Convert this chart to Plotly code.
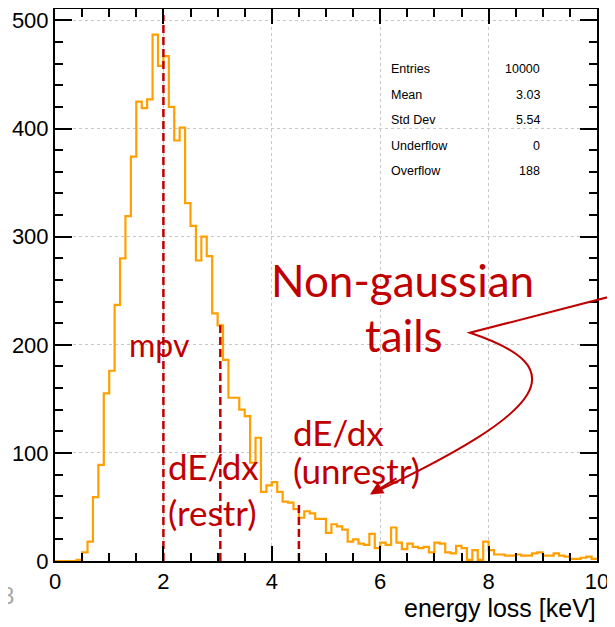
import numpy as np
import plotly.graph_objects as go

# ---------------- data ----------------
bin_lo = 0.0
bin_hi = 10.0
counts = [0, 0, 0, 0, 1, 8, 18, 59, 89, 155,
          176, 237, 280, 319, 374, 425, 419, 427, 487, 458,
          467, 420, 389, 401, 331, 310, 278, 300, 282, 229,
          218, 186, 151, 151, 140, 134, 91, 114, 64, 70,
          73, 64, 55, 54, 48, 40, 46, 44, 39, 39,
          26, 34, 32, 29, 18, 20, 16, 15, 25, 12,
          17, 15, 31, 17, 11, 16, 13, 12, 13, 8,
          17, 16, 8, 7, 14, 12, 1, 10, 1, 18,
          10, 6, 6, 5, 5, 6, 5, 5, 7, 8,
          5, 5, 7, 5, 4, 2, 2, 3, 4, 2]

marker_x = [2.0, 3.05, 4.5]          # mpv, dE/dx restr, dE/dx unrestr
marker_top = [505, 218, 52]

stat_names = ["Entries", "Mean", "Std Dev", "Underflow", "Overflow"]
stat_values = ["10000", "3.03", "5.54", "0", "188"]

x_ticks = [0, 2, 4, 6, 8, 10]
y_ticks = [0, 100, 200, 300, 400, 500]

# ---------------- layout geometry (page has an 8px body margin) ----------------
OFF = 8
W, H = 615 - OFF, 627 - OFF
PX0, PX1 = 55, 597          # plot left/right in page pixels
PY0, PY1 = 9, 561.5         # plot top/bottom in page pixels
L, T = PX0 - OFF, PY0 - OFF
pw, ph = PX1 - PX0, PY1 - PY0
R, B = W - L - pw, H - T - ph


def px(xp):
    return (xp - PX0) / pw


def py(yp):
    return (PY1 - yp) / ph


ORANGE = "#FFA000"
DRED = "#C00000"

edges = np.linspace(bin_lo, bin_hi, len(counts) + 1)
yy = list(counts) + [counts[-1]]

fig = go.Figure()
fig.add_trace(go.Scatter(x=edges, y=yy, mode="lines", line_shape="hv",
                         line=dict(color=ORANGE, width=2.2), hoverinfo="skip",
                         showlegend=False))
for xm, ym in zip(marker_x, marker_top):
    fig.add_trace(go.Scatter(x=[xm, xm], y=[0, ym], mode="lines",
                             line=dict(color=DRED, width=2.5, dash="8px,4px"),
                             showlegend=False, hoverinfo="skip"))

axis_common = dict(showline=True, linecolor="black", linewidth=2, mirror="allticks",
                   ticks="inside", tickcolor="black", tickwidth=2,
                   showgrid=True, gridcolor="#c8c8c8", griddash="dot", gridwidth=1,
                   zeroline=False,
                   tickfont=dict(family="Liberation Sans, Arial", size=22, color="black"))

fig.update_xaxes(range=[bin_lo, bin_hi], tickvals=x_ticks, ticklen=15,
                 minor=dict(dtick=0.5, ticklen=8, ticks="inside", tickcolor="black",
                            tickwidth=2, showgrid=False),
                 **axis_common)
fig.update_yaxes(range=[0, ph / 1.082], tickvals=y_ticks, ticklen=17,
                 minor=dict(dtick=20, ticklen=8, ticks="inside", tickcolor="black",
                            tickwidth=2, showgrid=False),
                 **axis_common)

ann = []
# axis title (right aligned like ROOT)
ann.append(dict(text="energy loss [keV]", xref="paper", yref="paper", x=px(598), y=py(609),
                xanchor="right", yanchor="middle", showarrow=False,
                font=dict(family="Liberation Sans, Arial", size=25, color="black")))
# stats box
for i, (n, v) in enumerate(zip(stat_names, stat_values)):
    yp = 69 + i * 25.6
    ann.append(dict(text=n, xref="paper", yref="paper", x=px(389), y=py(yp),
                    xanchor="left", yanchor="middle", showarrow=False,
                    font=dict(family="Liberation Sans, Arial", size=12.5, color="black")))
    ann.append(dict(text=v, xref="paper", yref="paper", x=px(542), y=py(yp),
                    xanchor="right", yanchor="middle", showarrow=False,
                    font=dict(family="Liberation Sans, Arial", size=12.5, color="black")))

tf = "Lato, Open Sans, sans-serif"
labels = [("mpv", 127, 345, 32, "left"),
          ("dE/dx", 166, 466, 35, "left"),
          ("(restr)", 166, 512, 35, "left"),
          ("dE/dx", 291, 432, 35, "left"),
          ("(unrestr)", 291, 470, 35, "left"),
          ("Non-gaussian", 402, 280, 44, "center"),
          ("tails", 404, 335, 44, "center")]
for t, xp, yp, fs, anc in labels:
    ann.append(dict(text=t, xref="paper", yref="paper", x=px(xp), y=py(yp),
                    xanchor=anc, yanchor="middle", showarrow=False,
                    font=dict(family=tf, size=fs, color=DRED)))

# arrow head
ann.append(dict(text="", xref="paper", yref="paper", x=px(370), y=py(495),
                ax=28, ay=-17, showarrow=True, arrowhead=2, arrowsize=1.3,
                arrowwidth=2, arrowcolor=DRED))
# gray clipped glyph from the slide at bottom-left
ann.append(dict(text="8", xref="paper", yref="paper", x=px(16), y=py(596),
                xanchor="right", yanchor="middle", showarrow=False,
                font=dict(family="Liberation Sans, Arial", size=24, color="#a8a8a8")))

path = "M {} {} L {} {} C {} {}, {} {}, {} {}".format(
    px(625), py(293), px(470), py(333),
    px(575), py(368), px(550), py(410), px(372), py(494))
shapes = [dict(type="path", path=path, xref="paper", yref="paper",
               line=dict(color=DRED, width=2))]

fig.update_layout(width=W, height=H, margin=dict(l=L, r=R, t=T, b=B, autoexpand=False),
                  plot_bgcolor="white", paper_bgcolor="white",
                  annotations=ann, shapes=shapes, showlegend=False)

fig.write_html("out.html")
